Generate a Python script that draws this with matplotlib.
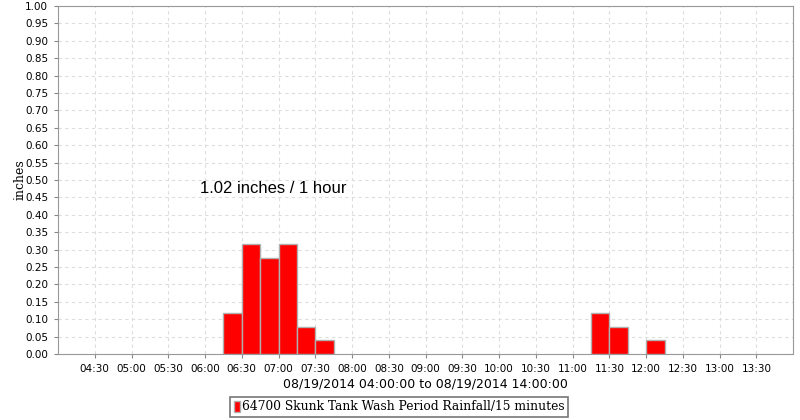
import matplotlib.pyplot as plt
import matplotlib.dates as mdates
from matplotlib.patches import Patch
import datetime as dt

# 15-minute rainfall totals (inches), start of each interval
bar_starts = ["06:15", "06:30", "06:45", "07:00", "07:15", "07:30",
              "11:15", "11:30", "12:00"]
rain_in = [0.118, 0.315, 0.276, 0.315, 0.079, 0.039,
           0.118, 0.079, 0.039]

day = dt.date(2014, 8, 19)
t0 = dt.datetime(2014, 8, 19, 4, 0)
t1 = dt.datetime(2014, 8, 19, 14, 0)


def to_dt(s):
    h, m = s.split(":")
    return dt.datetime(day.year, day.month, day.day, int(h), int(m))


xs = [to_dt(s) for s in bar_starts]
width = 15 / (24 * 60)

fig = plt.figure(figsize=(8, 4.2), dpi=100)
ax = fig.add_axes([0.0725, 0.157, 0.919, 0.8286])

ax.bar(xs, rain_in, width=width, align="edge", color="#ff0000",
       edgecolor="#b0b0b0", linewidth=1, zorder=3)

ax.set_xlim(t0, t1)
ax.set_ylim(0, 1.0)
ax.set_yticks([i * 0.05 for i in range(21)])
ax.set_yticklabels([f"{i * 0.05:.2f}" for i in range(21)])

ticks = [t0 + dt.timedelta(minutes=30 * i) for i in range(1, 20)]
ax.set_xticks(ticks)
ax.xaxis.set_major_formatter(mdates.DateFormatter("%H:%M"))

ax.tick_params(labelsize=7.5, length=3, color="#888888", pad=4)
ax.grid(True, color="#dddddd", linestyle=(0, (3, 3)), linewidth=0.8, zorder=0)
for sp in ax.spines.values():
    sp.set_color("#999999")

ax.set_ylabel("inches", family="DejaVu Serif", fontsize=9, labelpad=-1)
ax.set_xlabel("08/19/2014 04:00:00 to 08/19/2014 14:00:00", fontsize=9, labelpad=3)

ax.text(to_dt("05:56"), 0.477, "1.02 inches / 1 hour", fontsize=12,
        family="Liberation Sans", va="center", ha="left")

handle = Patch(facecolor="#ff0000", edgecolor="#b0b0b0")
leg = fig.legend([handle], ["64700 Skunk Tank Wash Period Rainfall/15 minutes"],
                 loc="center", bbox_to_anchor=(0.499, 0.031), fancybox=False,
                 handlelength=0.5, handleheight=1.0, handletextpad=0.2,
                 borderpad=0.3, prop={"family": "DejaVu Serif", "size": 8.8})
leg.get_frame().set_edgecolor("#555555")
leg.get_frame().set_linewidth(1.2)

fig.savefig("out.png", dpi=100)
